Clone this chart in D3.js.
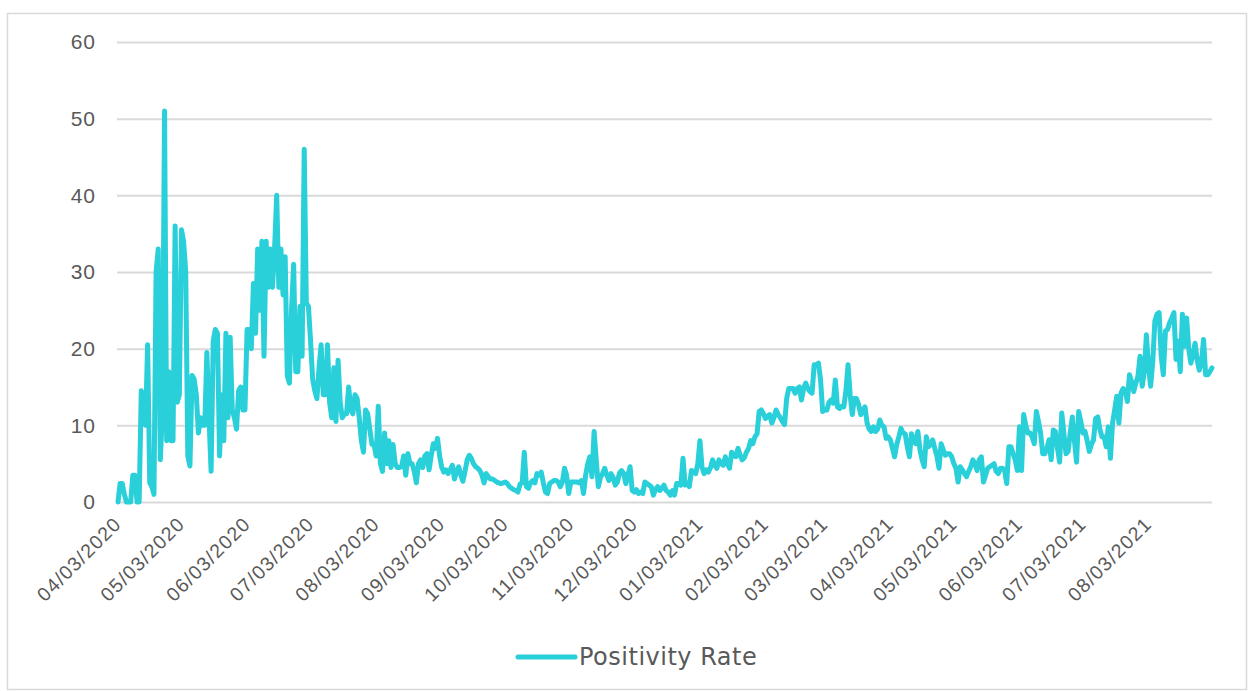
<!DOCTYPE html>
<html>
<head>
<meta charset="utf-8">
<script src="https://cdn.jsdelivr.net/npm/d3@7"></script>
<style>
    body { margin: 0; background: #fff; }
    svg { display: block; font-family: "DejaVu Sans", sans-serif; }
</style>
</head>
<body>
<div class="grafic"></div>
<script>

// first day of the series, one value per day after it
const startDay = "04/03/2020";
const seriesName = "Positivity Rate";

const positivityRate = [
    0, 2.4, 2.4, 1, 0, 0, 0, 3.5, 3.5, 0, 0, 14.5, 14, 10, 20.5, 2.5, 2, 1, 30, 33,
    5.5, 12, 51, 8, 17, 8, 8, 36, 13, 14, 35.5, 34, 30, 6, 4.7, 16.5, 16, 14, 9, 11,
    10, 10, 19.5, 11, 4, 21, 22.5, 22, 6, 14, 8, 22, 11, 21.5, 12, 11, 9.5, 14.5, 15, 12,
    12, 22.5, 22.5, 20, 28.5, 22, 33, 25, 34, 19, 34, 28, 33, 28, 33, 40, 28, 33, 27, 32,
    16.5, 15.5, 25, 31, 17, 17, 25.5, 19, 46, 26, 25.5, 21, 16, 14.5, 13.5, 17.5, 20.5, 14, 14, 20.5,
    13, 11, 17.5, 10.5, 18.5, 13, 11, 11.5, 11.5, 15, 12, 11.5, 14, 13.5, 11, 8, 6.5, 12, 11.5, 9.5,
    7.5, 7.5, 6, 12.5, 5, 4, 9, 5, 8, 4.5, 7.5, 5, 4.5, 4.5, 4.6, 6, 3.5, 6.3, 5, 5,
    4, 2.5, 5, 5.5, 4.5, 6, 6.3, 4.2, 6, 7.6, 7, 8.3, 6, 4.5, 3.9, 4.2, 3.7, 4.2, 4.8, 3,
    4, 4.6, 3.5, 2.7, 4, 5.5, 6.1, 5.7, 5, 4.6, 4.4, 4.1, 3.5, 2.5, 3.7, 3.3, 3, 3, 2.8, 2.6,
    2.5, 2.4, 2.5, 2.6, 2.4, 2, 1.8, 1.6, 1.5, 1.3, 2.3, 2.5, 6.5, 2, 1.8, 2.5, 2.8, 2.5, 3.7, 3.5,
    3.9, 2.5, 1.3, 1.1, 2.4, 2.6, 2.8, 2.8, 2.6, 2, 2.6, 4.4, 3.5, 1.1, 2.6, 2.6, 2.6, 2.6, 2.5, 2.8,
    1.1, 3.5, 5, 5.9, 3.3, 9.2, 5.5, 2, 3.2, 3.7, 4.4, 3.5, 2.8, 3.7, 3.2, 2.2, 2.6, 3.8, 4.1, 3.7,
    2.4, 3.5, 4.6, 1.5, 1.3, 1.6, 1.1, 1.3, 1.1, 2.6, 2.4, 2.2, 2, 0.9, 1.6, 2, 1.5, 1.8, 2.2, 1.5,
    1.3, 0.9, 1.5, 0.9, 2.4, 2.4, 2.2, 5.7, 2.2, 2.5, 2, 4.1, 4, 3.7, 5, 8, 4.5, 3.7, 4.2, 3.9,
    4.5, 5.5, 4.8, 4.4, 5.5, 5, 4.8, 5.9, 5, 4.4, 6.5, 6, 5.9, 7, 6.1, 5.5, 5.8, 6.5, 7, 8,
    7.6, 8.5, 8.9, 11.8, 12, 11.5, 10.9, 11.2, 11.4, 10.3, 11, 12, 11.4, 11, 10.5, 10.1, 13.5, 14.8, 14.8, 14.8,
    14.2, 14.8, 15, 13.3, 14.8, 15.5, 14.8, 14.4, 14.2, 17.9, 17.9, 18.1, 16, 11.8, 12, 12, 13, 13.3, 12.9, 15.9,
    12.4, 12.2, 12.5, 12.4, 14.5, 17.9, 14, 11.4, 13.5, 13.5, 12.7, 11.4, 12, 12.4, 10.3, 9.5, 9.2, 9.8, 9.2, 9.5,
    10.7, 10, 9.8, 8.3, 8.5, 8.1, 7, 5.9, 7.5, 8.5, 9.6, 9, 8.9, 7.2, 5.9, 8.9, 8, 7.6, 9.2, 6.8,
    5.5, 4.6, 8.5, 7.2, 7.5, 8.1, 7, 6, 4.4, 7.6, 6.8, 6.1, 6.3, 6.3, 5.9, 5, 4.4, 2.6, 4.6, 4.2,
    3.7, 3.3, 4, 4.6, 5.5, 5, 4.1, 5.5, 5.9, 2.6, 3.5, 4.4, 4.6, 4.8, 5, 4, 3.7, 4.4, 4.4, 4.1,
    2.4, 7.2, 7.2, 6.3, 5.5, 4.1, 9.8, 4.1, 11.4, 10, 9, 9, 8.5, 7.6, 11.8, 10.5, 9, 6.3, 6.3, 7,
    8.1, 5.5, 9.4, 9.2, 7, 5.2, 11.6, 9, 6.3, 6.6, 9, 11.1, 8, 5.2, 11.8, 10.5, 9, 9.2, 8, 6.6,
    7.5, 8.1, 10.9, 11.1, 9.5, 8.5, 8.5, 7.2, 9.8, 5.7, 10.3, 12, 13.8, 10.3, 14.2, 14.8, 14.5, 13.1, 16.6, 15.7,
    14.4, 15.5, 16.4, 19, 15.1, 17, 21.8, 17.7, 15.1, 18.3, 23.6, 24.5, 24.7, 19, 16.6, 22.3, 22.5, 23.4, 24, 24.7,
    18.6, 21, 17, 24.5, 20.3, 24, 20, 18.1, 19.2, 20.7, 18.5, 17.2, 18.1, 21.2, 16.6, 16.6, 17, 17.5
];

const yTicks = [0, 10, 20, 30, 40, 50, 60];

const xTickLabels = [
    "04/03/2020", "05/03/2020", "06/03/2020", "07/03/2020", "08/03/2020", "09/03/2020",
    "10/03/2020", "11/03/2020", "12/03/2020", "01/03/2021", "02/03/2021", "03/03/2021",
    "04/03/2021", "05/03/2021", "06/03/2021", "07/03/2021", "08/03/2021"
];

const W = 1254, H = 691;
const lineColor = "#29cfd9";
const textColor = "#595959";
const gridColor = "#d9d9d9";

const parse = d3.timeParse("%m/%d/%Y");
const first = parse(startDay);

let data = positivityRate.map((v, i) => ({ date: d3.timeDay.offset(first, i), value: v }));

let svg = d3.select(".grafic")
    .append("svg")
    .attr("width", W)
    .attr("height", H);

// chart frame
svg.append("rect")
    .attr("x", 7.5).attr("y", 13.5)
    .attr("width", 1239).attr("height", 676)
    .attr("fill", "none")
    .attr("stroke", gridColor)
    .attr("stroke-width", 1.5);

let xScale = d3.scaleTime()
    .domain([first, d3.timeDay.offset(first, positivityRate.length - 1)])
    .range([118, 1212]);

let yScale = d3.scaleLinear()
    .domain([0, 60])
    .range([502, 42]);

// Y axis + grid
let yAxis = d3.axisLeft(yScale)
    .tickValues(yTicks)
    .tickSize(-(1212 - 117))
    .tickPadding(21)
    .tickFormat(d3.format("d"));

let gy = svg.append("g")
    .attr("transform", "translate(117,0)")
    .call(yAxis);
gy.select(".domain").remove();
gy.selectAll(".tick line")
    .attr("stroke", gridColor)
    .attr("stroke-width", 2);
gy.selectAll(".tick text")
    .attr("fill", textColor)
    .attr("font-size", 21)
    .attr("letter-spacing", 1);

// X axis labels only
let xAxis = d3.axisBottom(xScale)
    .tickValues(xTickLabels.map(parse))
    .tickSize(0)
    .tickFormat(d3.timeFormat("%m/%d/%Y"));

let gx = svg.append("g")
    .attr("transform", "translate(0,502)")
    .call(xAxis);
gx.select(".domain").remove();
gx.selectAll(".tick text")
    .attr("fill", textColor)
    .attr("font-size", 19.5)
    .attr("letter-spacing", 1.2)
    .attr("text-anchor", "end")
    .attr("dy", 0)
    .attr("transform", "translate(2,21) rotate(-45)");

// the series
let line = d3.line()
    .x(d => xScale(d.date))
    .y(d => yScale(d.value));

svg.append("path")
    .datum(data)
    .attr("fill", "none")
    .attr("stroke", lineColor)
    .attr("stroke-width", 5)
    .attr("stroke-linejoin", "round")
    .attr("stroke-linecap", "round")
    .attr("d", line);

// legend
let legend = svg.append("g").attr("transform", "translate(518,657)");
legend.append("line")
    .attr("x1", 0).attr("x2", 57)
    .attr("stroke", lineColor)
    .attr("stroke-width", 5)
    .attr("stroke-linecap", "round");
legend.append("text")
    .attr("x", 61)
    .attr("dy", "0.35em")
    .attr("fill", textColor)
    .attr("font-size", 24)
    .attr("letter-spacing", 0.5)
    .text(seriesName);

</script>
</body>
</html>
